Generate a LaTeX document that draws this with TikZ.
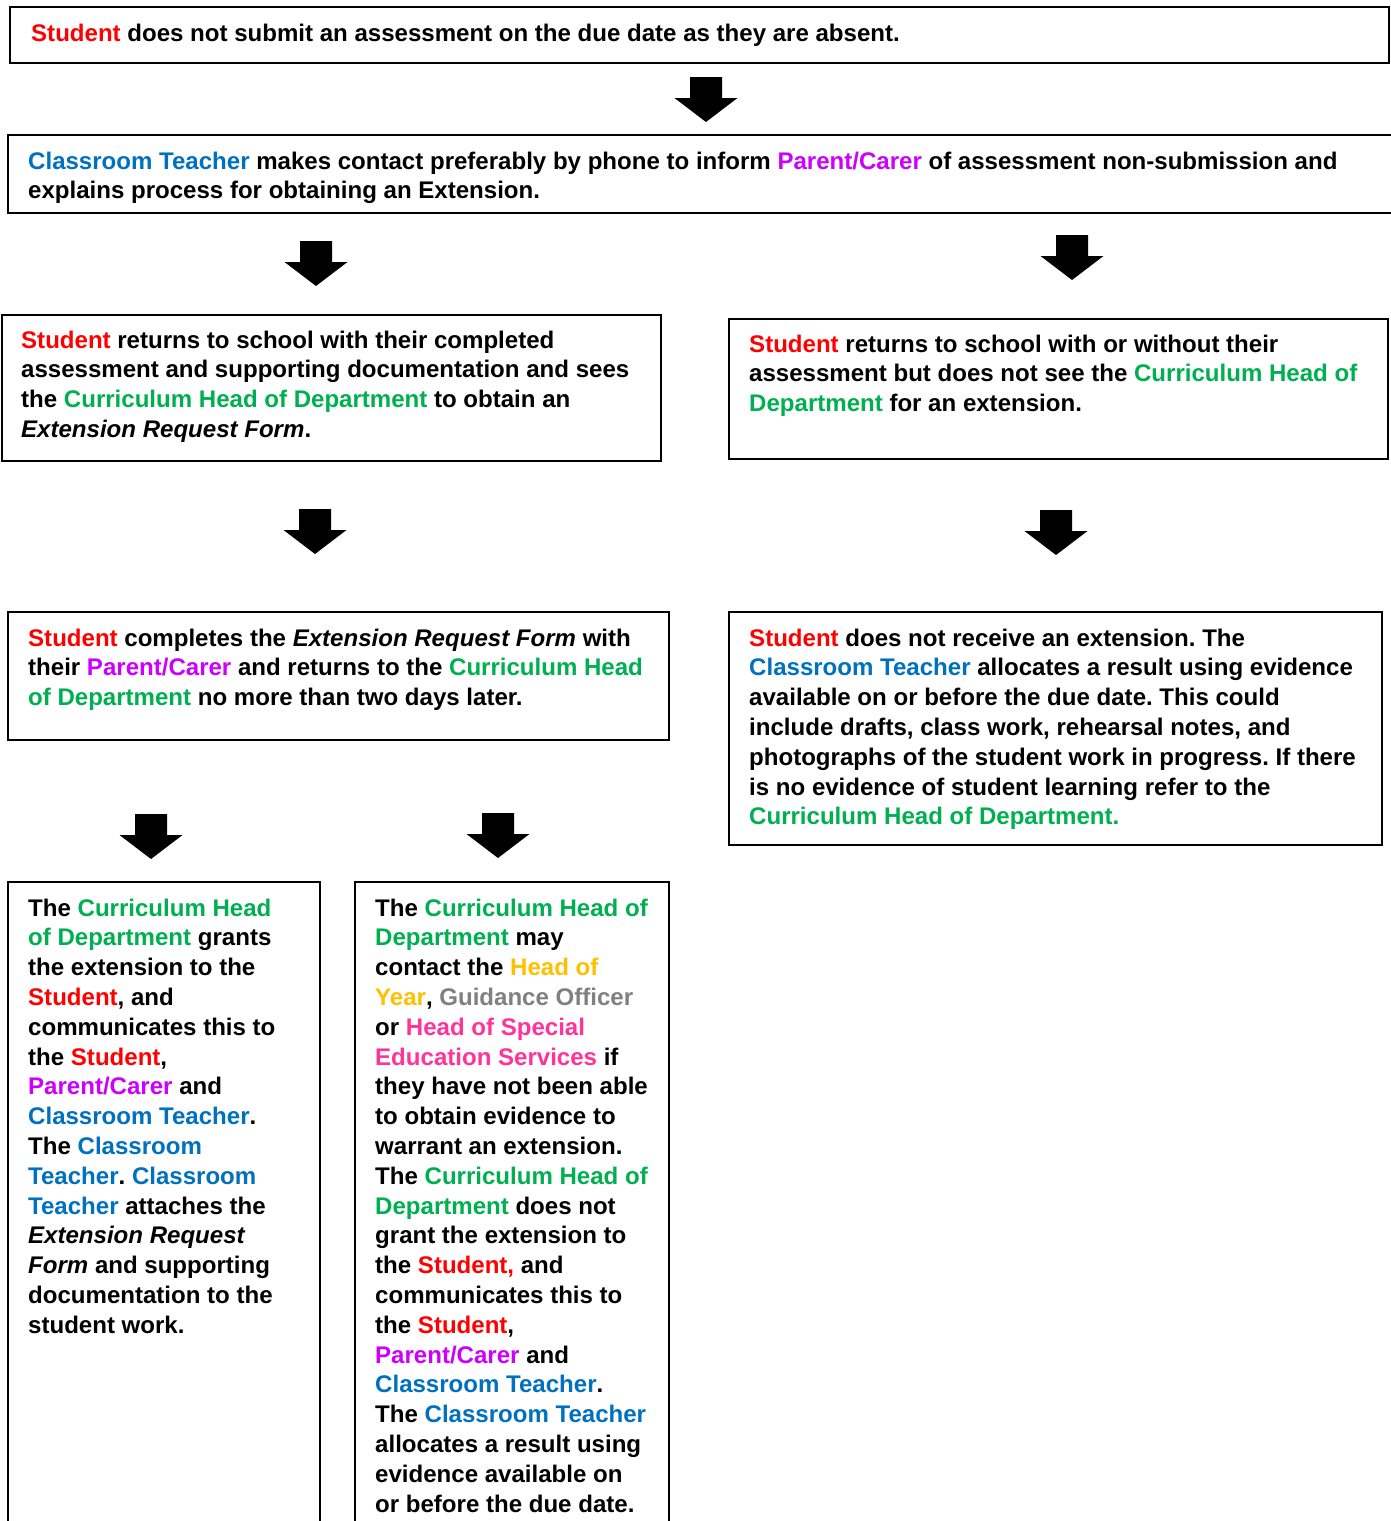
\documentclass[tikz,border=0pt]{standalone}
\usepackage{fontspec}
\setmainfont{Liberation Sans}
\usepackage{xcolor}
\frenchspacing
\definecolor{cRed}{HTML}{FF0000}
\definecolor{cBlue}{HTML}{0070C0}
\definecolor{cGreen}{HTML}{00B050}
\definecolor{cPurp}{HTML}{CC00FF}
\definecolor{cYel}{HTML}{FFC000}
\definecolor{cGray}{HTML}{808080}
\definecolor{cPink}{HTML}{FF3399}
\newcommand{\rdx}[1]{\textcolor{cRed}{#1}}
\newcommand{\blx}[1]{\textcolor{cBlue}{#1}}
\newcommand{\grx}[1]{\textcolor{cGreen}{#1}}
\newcommand{\pux}[1]{\textcolor{cPurp}{#1}}
\newcommand{\yex}[1]{\textcolor{cYel}{#1}}
\newcommand{\gyx}[1]{\textcolor{cGray}{#1}}
\newcommand{\pkx}[1]{\textcolor{cPink}{#1}}
\newcommand{\bodytext}[2]{\parbox[t]{#1pt}{\frenchspacing\raggedright #2}}
\begin{document}
\begin{tikzpicture}[x=1pt,y=1pt,
  boxst/.style={draw=black, line width=1.6pt, rectangle, inner sep=0},
  txt/.style={anchor=base west, inner sep=0, font=\bfseries\fontsize{24.05}{29.8}\selectfont},
  downarrow/.pic={\fill[black] (-16,0) -- (16,0) -- (16,-21) -- (31.5,-21) -- (0,-45) -- (-31.5,-21) -- (-16,-21) -- cycle;}
]
\useasboundingbox (0,0) rectangle (1390,-1521);
% boxes
\draw[boxst] (10,-7) rectangle (1389,-63);
\draw[boxst] (8,-135) rectangle (1392,-213);
\draw[boxst] (2,-315) rectangle (661,-461);
\draw[boxst] (729,-319) rectangle (1388,-459);
\draw[boxst] (8,-612) rectangle (669,-740);
\draw[boxst] (729,-612) rectangle (1382,-845);
\draw[boxst] (8,-882) rectangle (320,-1530);
\draw[boxst] (355,-882) rectangle (669,-1530);
% arrows
\pic (a1) at (706,-77) {downarrow};
\pic (a2) at (316,-241) {downarrow};
\pic (a3) at (1072,-235) {downarrow};
\pic (a4) at (315,-509) {downarrow};
\pic (a5) at (1056,-510) {downarrow};
\pic (a6) at (151,-814) {downarrow};
\pic (a7) at (498,-813) {downarrow};
% texts
\node[txt] (t1) at (31,-41) {\bodytext{1350}{\rdx{Student} does not submit an assessment on the due date as they are absent.}};
\node[txt] (t2) at (28,-169) {\bodytext{1360}{\blx{Classroom Teacher} makes contact preferably by phone to inform \pux{Parent/Carer} of assessment non-submission and\\ explains process for obtaining an Extension.}};
\node[txt] (t3) at (21,-348) {\bodytext{700}{\rdx{Student} returns to school with their completed\\ assessment and supporting documentation and sees\\ the \grx{Curriculum Head of Department} to obtain an\\ \textit{Extension Request Form}.}};
\node[txt] (t4) at (749,-352) {\bodytext{700}{\rdx{Student} returns to school with or without their\\ assessment but does not see the \grx{Curriculum Head of}\\ \grx{Department} for an extension.}};
\node[txt] (t5) at (28,-646) {\bodytext{700}{\rdx{Student} completes the \textit{Extension Request Form} with\\ their \pux{Parent/Carer} and returns to the \grx{Curriculum Head}\\ \grx{of Department} no more than two days later.}};
\node[txt] (t6) at (749,-646) {\bodytext{700}{\rdx{Student} does not receive an extension. The\\ \blx{Classroom Teacher} allocates a result using evidence\\ available on or before the due date. This could\\ include drafts, class work, rehearsal notes, and\\ photographs of the student work in progress. If there\\ is no evidence of student learning refer to the\\ \grx{Curriculum Head of Department.}}};
\node[txt] (t7) at (28,-916) {\bodytext{400}{The \grx{Curriculum Head}\\ \grx{of Department} grants\\ the extension to the\\ \rdx{Student}, and\\ communicates this to\\ the \rdx{Student},\\ \pux{Parent/Carer} and\\ \blx{Classroom Teacher}.\\ The \blx{Classroom}\\ \blx{Teacher}. \blx{Classroom}\\ \blx{Teacher} attaches the\\ \textit{Extension Request}\\ \textit{Form} and supporting\\ documentation to the\\ student work.}};
\node[txt] (t8) at (375,-916) {\bodytext{400}{The \grx{Curriculum Head of}\\ \grx{Department} may\\ contact the \yex{Head of}\\ \yex{Year}, \gyx{Guidance Officer}\\ or \pkx{Head of Special}\\ \pkx{Education Services} if\\ they have not been able\\ to obtain evidence to\\ warrant an extension.\\ The \grx{Curriculum Head of}\\ \grx{Department} does not\\ grant the extension to\\ the \rdx{Student,} and\\ communicates this to\\ the \rdx{Student},\\ \pux{Parent/Carer} and\\ \blx{Classroom Teacher}.\\ The \blx{Classroom Teacher}\\ allocates a result using\\ evidence available on\\ or before the due date.}};
\end{tikzpicture}
\end{document}
